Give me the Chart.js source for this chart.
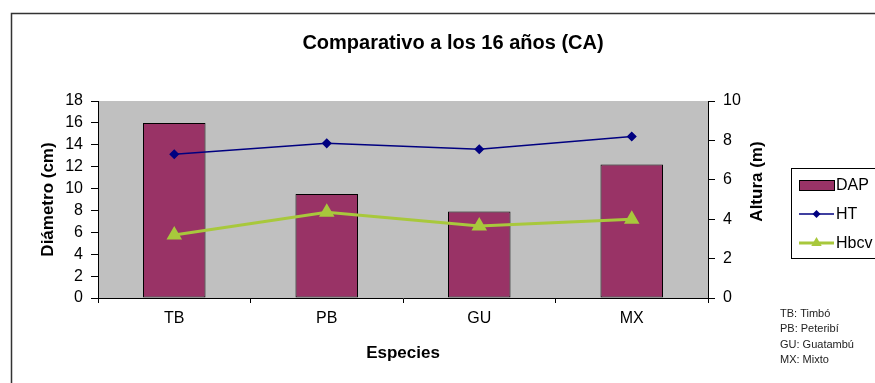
<!DOCTYPE html>
<html>
<head>
<meta charset="utf-8">
<script src="https://cdn.jsdelivr.net/npm/chart.js@4"></script>
<style>
html, body { margin: 0; padding: 0; background: #fff; }
#wrap { width: 875px; height: 383px; }
</style>
</head>
<body>
<div id="wrap"><canvas id="myChart" width="875" height="383"></canvas></div>
<script>
// data
var categories = ['TB', 'PB', 'GU', 'MX'];
var dapValues = [16.0, 9.5, 7.9, 12.2];
var htValues = [7.3, 7.85, 7.55, 8.2];
var hbcvValues = [3.2, 4.35, 3.65, 4.0];
var chartTitle = 'Comparativo a los 16 años (CA)';
var rightAxisTitle = 'Altura (m)';
var footNotes = ['TB: Timbó', 'PB: Peteribí', 'GU: Guatambú', 'MX: Mixto'];

Chart.defaults.font.family = '"Liberation Sans", Arial, sans-serif';
Chart.defaults.color = '#000';

// small marker drawer for the legend
function drawMarker(ctx, style, x, y, r, color){
    ctx.fillStyle = color;
    ctx.beginPath();
    if (style === 'rectRot') {
        ctx.moveTo(x, y - r); ctx.lineTo(x + r, y); ctx.lineTo(x, y + r); ctx.lineTo(x - r, y);
    } else if (style === 'triangle') {
        ctx.moveTo(x, y - r); ctx.lineTo(x + r * 0.87, y + r * 0.5); ctx.lineTo(x - r * 0.87, y + r * 0.5);
    } else {
        ctx.arc(x, y, r, 0, Math.PI * 2);
    }
    ctx.closePath();
    ctx.fill();
}

var decor = {
    id: 'decor',
    beforeDraw: function(chart){
        var ctx = chart.ctx, a = chart.chartArea;
        ctx.save();
        ctx.fillStyle = '#c0c0c0';
        ctx.fillRect(a.left, a.top, a.right - a.left, a.bottom - a.top);
        ctx.strokeStyle = '#333';
        ctx.lineWidth = 1.5;
        ctx.strokeRect(11.5, 13.5, 900, 400);
        ctx.restore();
    },
    afterDraw: function(chart){
        var ctx = chart.ctx;
        ctx.save();
        // title
        ctx.fillStyle = '#000';
        ctx.font = 'bold 20px "Liberation Sans", Arial, sans-serif';
        ctx.textAlign = 'center';
        ctx.textBaseline = 'middle';
        ctx.fillText(chartTitle, 453, 43);

        // right axis title, reading bottom to top like the left one
        var a = chart.chartArea;
        ctx.save();
        ctx.translate(757, (a.top + a.bottom) / 2 - 18);
        ctx.rotate(-Math.PI / 2);
        ctx.font = 'bold 17px "Liberation Sans", Arial, sans-serif';
        ctx.fillText(rightAxisTitle, 0, 0);
        ctx.restore();

        // legend
        ctx.fillStyle = '#fff';
        ctx.fillRect(791, 168, 90, 90);
        ctx.strokeStyle = '#000';
        ctx.lineWidth = 1;
        ctx.strokeRect(791.5, 168.5, 90, 90);
        var rows = [185, 214, 243];
        ctx.font = '16px "Liberation Sans", Arial, sans-serif';
        ctx.textAlign = 'left';
        chart.data.datasets.forEach(function(ds, i){
            var y = rows[i];
            if (ds.type === 'bar') {
                ctx.fillStyle = ds.backgroundColor;
                ctx.fillRect(799, y - 5, 35, 10);
                ctx.strokeStyle = '#000';
                ctx.strokeRect(799.5, y - 4.5, 35, 10);
            } else {
                ctx.strokeStyle = ds.borderColor;
                ctx.lineWidth = ds.borderWidth;
                ctx.beginPath();
                ctx.moveTo(799, y); ctx.lineTo(834, y);
                ctx.stroke();
                drawMarker(ctx, ds.pointStyle, 816.5, y, ds.pointRadius, ds.pointBackgroundColor);
                ctx.lineWidth = 1;
            }
            ctx.fillStyle = '#000';
            ctx.fillText(ds.label, 836, y + 1);
        });

        // footnotes
        ctx.fillStyle = '#222';
        ctx.font = '11px "Liberation Sans", Arial, sans-serif';
        footNotes.forEach(function(t, i){
            ctx.fillText(t, 780, 314 + i * 15.3);
        });
        ctx.restore();
    }
};

var ctx = document.getElementById('myChart');
var myChart = new Chart(ctx, {
    data: {
        labels: categories,
        datasets: [{
            type: 'bar',
            label: 'DAP',
            data: dapValues,
            yAxisID: 'y',
            backgroundColor: '#993366',
            borderColor: '#000',
            borderWidth: 1,
            borderSkipped: false,
            barPercentage: 1,
            categoryPercentage: 0.41,
            order: 3
        }, {
            type: 'line',
            label: 'HT',
            data: htValues,
            yAxisID: 'y1',
            borderColor: '#000080',
            borderWidth: 1.5,
            pointStyle: 'rectRot',
            pointRadius: 4,
            pointBackgroundColor: '#000080',
            pointBorderColor: '#000080',
            tension: 0,
            order: 1
        }, {
            type: 'line',
            label: 'Hbcv',
            data: hbcvValues,
            yAxisID: 'y1',
            borderColor: '#a8c83c',
            borderWidth: 3,
            pointStyle: 'triangle',
            pointRadius: 6,
            pointBackgroundColor: '#a8c83c',
            pointBorderColor: '#a8c83c',
            tension: 0,
            order: 2
        }]
    },
    options: {
        responsive: false,
        animation: false,
        layout: { padding: { top: 101, left: 0, right: 0, bottom: 0 } },
        plugins: {
            legend: { display: false },
            title: { display: false },
            tooltip: { enabled: false }
        },
        scales: {
            x: {
                grid: { drawOnChartArea: false, tickLength: 5, color: '#000', offset: true },
                border: { color: '#000' },
                ticks: { font: { size: 16 }, padding: 6 },
                title: { display: true, text: 'Especies', font: { size: 17, weight: 'bold' }, padding: { top: 0, bottom: 19 } },
                afterFit: function(s){ s.height = 85; }
            },
            y: {
                position: 'left',
                min: 0, max: 18,
                grid: { drawOnChartArea: false, tickLength: 7, color: '#000' },
                border: { color: '#000' },
                ticks: { stepSize: 2, autoSkip: false, font: { size: 16 }, padding: 8 },
                title: { display: true, text: 'Diámetro (cm)', font: { size: 17, weight: 'bold' }, padding: { top: 38, bottom: 0 } },
                afterFit: function(s){ s.width = 98; }
            },
            y1: {
                position: 'right',
                min: 0, max: 10,
                grid: { drawOnChartArea: false, tickLength: 7, color: '#000' },
                border: { color: '#000' },
                ticks: { stepSize: 2, autoSkip: false, font: { size: 16 }, padding: 8 },
                title: { display: false },
                afterFit: function(s){ s.width = 167; }
            }
        }
    },
    plugins: [decor]
});
</script>
</body>
</html>
